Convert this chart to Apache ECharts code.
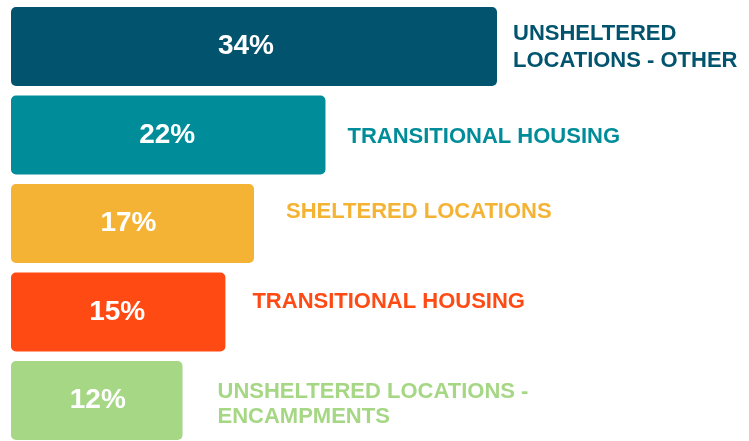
<!DOCTYPE html>
<html>
<head>
<meta charset="utf-8">
<script src="https://cdn.jsdelivr.net/npm/echarts@6/dist/echarts.min.js"></script>
<style>
  html, body { margin: 0; padding: 0; background: #fff; }
  #chart { width: 749px; height: 441px; }
</style>
</head>
<body>
<div id="chart"></div>
<script>
const categories = [
  'UNSHELTERED\nLOCATIONS - OTHER',
  'TRANSITIONAL HOUSING',
  'SHELTERED LOCATIONS',
  'TRANSITIONAL HOUSING',
  'UNSHELTERED LOCATIONS -\nENCAMPMENTS'
]
const values = [34, 22, 17, 15, 12]
const colors = ['#02546E', '#008C99', '#F5B335', '#FF4A14', '#A6D785']
// label placement beside each bar (distance, vertical shift, line height)
const labelDistance = [16, 22, 32, 27, 35]
const labelShift = [1, 2, -12, -10, 4]
const labelLineHeight = [27, 26, 26, 26, 25]
// small horizontal nudge of the percentage inside each bar
const pctShift = [-8, -1, -4, -1, 1]

const chart = echarts.init(document.getElementById('chart'))

const data = values.map((v, i) => ({
  value: v,
  itemStyle: { color: colors[i], borderRadius: 5 },
  label: {
    show: true,
    position: 'right',
    distance: labelDistance[i],
    offset: [0, labelShift[i]],
    lineHeight: labelLineHeight[i],
    color: colors[i],
    formatter: () => categories[i]
  }
}))

const pctData = values.map((v, i) => ({
  value: v,
  label: { offset: [pctShift[i], 0] }
}))

chart.setOption({
  animation: false,
  // categories sit on ticks (boundaryGap false) so the spacing can be set freely
  grid: { left: 11, top: 46.5, width: 486, height: 354 },
  xAxis: { type: 'value', min: 0, max: 34, show: false },
  yAxis: {
    type: 'category',
    inverse: true,
    boundaryGap: false,
    data: categories,
    show: false
  },
  series: [
    {
      type: 'bar',
      barWidth: 79,
      data: data,
      label: {
        fontFamily: 'Liberation Sans',
        fontWeight: 'bold',
        fontSize: 22,
        align: 'left'
      }
    },
    {
      // percentage labels centred in bars
      type: 'bar',
      barWidth: 79,
      barGap: '-100%',
      silent: true,
      itemStyle: { color: 'transparent' },
      data: pctData,
      label: {
        show: true,
        position: 'inside',
        color: '#fff',
        fontFamily: 'Liberation Sans',
        fontWeight: 'bold',
        fontSize: 28,
        formatter: p => p.value + '%'
      }
    }
  ]
})
</script>
</body>
</html>
